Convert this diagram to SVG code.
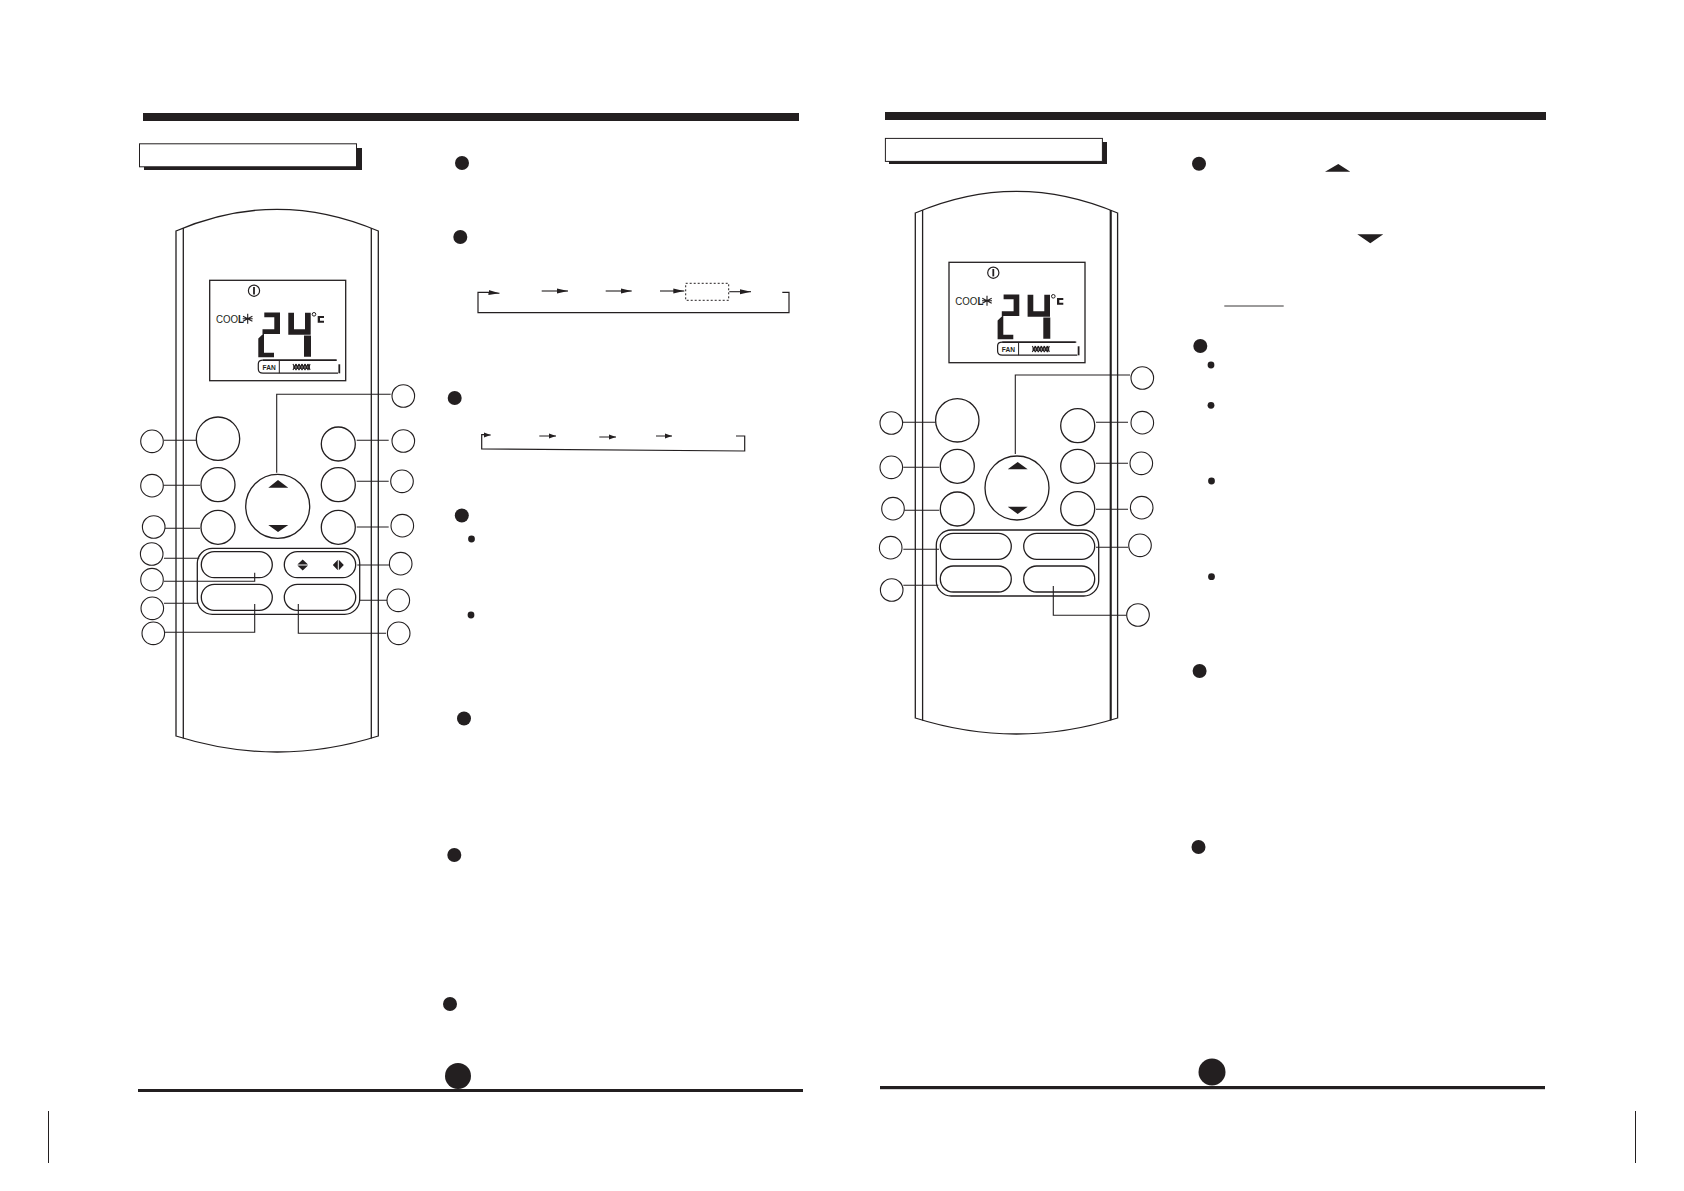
<svg xmlns="http://www.w3.org/2000/svg" width="1684" height="1191" viewBox="0 0 1684 1191">
<style>
.ln{fill:none;stroke:#231f20;stroke-width:1.2}
.bd{fill:none;stroke:#231f20;stroke-width:1.3}
.dk{fill:#231f20;stroke:none}
.cn{fill:none;stroke:#231f20;stroke-width:1.1}
.btn{fill:#fff;stroke:#231f20;stroke-width:1.3}
.call{fill:#fff;stroke:#231f20;stroke-width:1.1}
.ar{fill:none;stroke:#231f20;stroke-width:1.1;marker-end:url(#ah)}
.ar2{fill:none;stroke:#231f20;stroke-width:1;marker-end:url(#ahs)}
.lcd{font-family:"Liberation Sans",Arial,sans-serif;fill:#231f20}
</style>
<defs>
<marker id="ah" markerUnits="userSpaceOnUse" markerWidth="11" markerHeight="6" refX="11" refY="3" orient="auto"><path d="M0,0.5 L11,3 L0,5.5Z" fill="#231f20"/></marker>
<marker id="ahs" markerUnits="userSpaceOnUse" markerWidth="7" markerHeight="6" refX="7" refY="3" orient="auto"><path d="M0,0.5 L7,3 L0,5.5Z" fill="#231f20"/></marker>
<g id="body">
<path class="bd" d="M176,231 Q277,187.6 378.3,231 L378.3,736 Q277,768 176,736 Z"/>
<path class="bd" d="M183.3,228 V738.5 M371.3,228 V738.5"/>
<rect class="bd" x="209.7" y="280.3" width="136" height="100.4"/>
<circle cx="254" cy="290.7" r="5.6" fill="none" stroke="#231f20" stroke-width="1.2"/>
<path d="M254,287 V294.4" stroke="#231f20" stroke-width="1.8"/>
<text class="lcd" x="216" y="322.7" font-size="10" textLength="28" lengthAdjust="spacingAndGlyphs">COO<tspan font-weight="bold">L</tspan></text>
<path d="M247.7,313.7 V323.7 M243,316.2 L252.4,321.2 M252.4,316.2 L243,321.2 M242.7,318.7 H252.7" stroke="#231f20" stroke-width="1.1" fill="none"/>
<path class="dk" d="M264.3,312.5 H280 V317.2 H264.3 Z M274.3,312.5 H280 V334 H274.3 Z M262.5,329.3 H280 V334 H262.5 Z M258.3,338.5 L263.5,333.5 L264,334 V357.3 H258.3 Z M258.3,352.7 H274 V357.3 H258.3 Z"/>
<path class="dk" d="M288.3,312.7 H294 V334.7 H288.3 Z M288.3,329.3 H310.7 V334.7 H288.3 Z M305,312.7 H310.7 V334.7 H305 Z M304,335.4 H311 V356.7 H304 Z"/>
<circle cx="314" cy="314.3" r="1.8" fill="none" stroke="#231f20"/>
<path class="dk" d="M317.7,316 H324 V318 H320 V320.7 H324 V322.7 H317.7 Z"/>
<path d="M337,360.2 H263 Q258.3,360.2 258.3,364 V369 Q258.3,373.2 263,373.2 H338" fill="none" stroke="#231f20" stroke-width="1.2"/>
<path d="M263,360.2 H336" stroke="#231f20" stroke-width="1.6"/>
<path d="M339.3,364.3 V373.3" stroke="#231f20" stroke-width="1.8"/>
<path d="M279.3,360 V373.2" stroke="#231f20" stroke-width="1"/>
<text class="lcd" x="262.5" y="369.7" font-size="6.6" font-weight="bold">FAN</text>
<path d="M293,364 L296,370 M296,364 L293,370 M296,364 L299,370 M299,364 L296,370 M299,364 L302,370 M302,364 L299,370 M302,364 L305,370 M305,364 L302,370 M305,364 L308,370 M308,364 L305,370 M308,364 L310,370 M310,364 L308,370 M293,367 H310" stroke="#231f20" stroke-width="1.1" fill="none"/>
</g>
</defs>

<g id="page-furniture">
<rect class="dk" x="143" y="113" width="656" height="8"/>
<rect class="dk" x="885" y="112" width="661" height="8"/>
<rect class="dk" x="138" y="1089" width="665" height="3"/>
<rect class="dk" x="880" y="1086" width="665" height="3.2"/>
<circle class="dk" cx="458" cy="1076" r="13"/>
<circle class="dk" cx="1212" cy="1072" r="13.5"/>
<path d="M48.5,1111 V1163 M1635.5,1111 V1163" stroke="#231f20" stroke-width="1"/>
</g>

<g id="header-left">
<rect class="dk" x="144" y="148" width="218" height="22"/>
<rect x="139.5" y="143.8" width="217" height="23" fill="#fff" stroke="#231f20" stroke-width="1"/>
</g>
<g id="header-right">
<rect class="dk" x="889" y="142" width="218" height="22"/>
<rect x="885.4" y="138.4" width="217" height="23" fill="#fff" stroke="#231f20" stroke-width="1"/>
</g>

<g id="remote-left"><use href="#body"/></g>
<g id="remote-right"><use href="#body" transform="translate(739.3,-18)"/><path d="M1110.7,210 V720" stroke="#231f20" stroke-width="2"/></g>

<g id="buttons-left">
<rect class="bd" x="197.3" y="548.3" width="162.4" height="66" rx="15"/>
<circle class="btn" cx="218" cy="438.7" r="21.7"/>
<circle class="btn" cx="218" cy="484.7" r="17"/>
<circle class="btn" cx="218" cy="527.3" r="17"/>
<circle class="btn" cx="338.3" cy="444" r="17"/>
<circle class="btn" cx="338.3" cy="484.7" r="17"/>
<circle class="btn" cx="338.3" cy="527.3" r="17"/>
<circle class="btn" cx="277.7" cy="506.3" r="32"/>
<path class="dk" d="M278,480 L268.3,487.7 H288.3Z M268.3,525 H288.3 L278,532Z"/>
<rect class="bd" x="201.3" y="551.7" width="71" height="26" rx="13"/>
<rect class="bd" x="284.3" y="551.7" width="71.4" height="26" rx="13"/>
<rect class="bd" x="201.3" y="584.3" width="71" height="26" rx="13"/>
<rect class="bd" x="284.3" y="584.3" width="71.4" height="26" rx="13"/>
<path class="dk" d="M302.7,559.5 L308,564.5 H297.4Z M297.4,565.5 H308 L302.7,570.5Z M337.8,559.7 L332.8,565 L337.8,570.3Z M338.8,559.7 L343.8,565 L338.8,570.3Z"/>
</g>
<g id="buttons-right">
<rect class="bd" x="936.3" y="530" width="162.4" height="66" rx="15"/>
<circle class="btn" cx="957.3" cy="420.3" r="21.7"/>
<circle class="btn" cx="957.3" cy="466.3" r="17"/>
<circle class="btn" cx="957.3" cy="509" r="17"/>
<circle class="btn" cx="1077.7" cy="425.7" r="17"/>
<circle class="btn" cx="1077.7" cy="466.3" r="17"/>
<circle class="btn" cx="1077.7" cy="508.7" r="17"/>
<circle class="btn" cx="1017" cy="488" r="32"/>
<path class="dk" d="M1017.7,462 L1007.7,469.3 H1027.7Z M1007.7,506.7 H1027.7 L1017.7,514Z"/>
<rect class="bd" x="940.3" y="533.3" width="71" height="26" rx="13"/>
<rect class="bd" x="1023.7" y="533.3" width="71" height="26" rx="13"/>
<rect class="bd" x="940.3" y="566" width="71" height="26" rx="13"/>
<rect class="bd" x="1023.7" y="566" width="71" height="26" rx="13"/>
</g>

<g id="connectors">
<path class="cn" d="M164,440.3 H196 M163.3,485.3 H200 M165,528.3 H200 M164,558.3 H199.3 M164,581.3 H254.7 V572.7 M164,603.3 H198.3 M164.7,632.3 H254.7 V604"/>
<path class="cn" d="M390.7,394.3 H276.7 V472.7 M356.7,440.3 H388.7 M356.7,481.3 H388.7 M356.7,527 H388.7 M357.3,565 H389.3 M360,600.3 H387.3 M386,633.3 H298.3 V604"/>
<path class="cn" d="M902.7,422.3 H935.7 M903.3,467.3 H939.3 M904.3,510.3 H939.3 M903.3,549.3 H939 M903.3,585.3 H938.3"/>
<path class="cn" d="M1130,375 H1015.3 V454 M1096,422.3 H1128 M1096,463.3 H1128 M1096,509.3 H1128 M1096,547.3 H1128 M1126.7,615.3 H1053.3 V586"/>
</g>

<g id="callouts-left">
<circle class="call" cx="152" cy="441.3" r="11.3"/>
<circle class="call" cx="152" cy="485.7" r="11.3"/>
<circle class="call" cx="153.7" cy="527" r="11.3"/>
<circle class="call" cx="151.7" cy="554" r="11.3"/>
<circle class="call" cx="152" cy="579.7" r="11.3"/>
<circle class="call" cx="152.3" cy="608.3" r="11.3"/>
<circle class="call" cx="153.3" cy="633.3" r="11.3"/>
<circle class="call" cx="403.3" cy="396" r="11.3"/>
<circle class="call" cx="403.3" cy="441" r="11.3"/>
<circle class="call" cx="402" cy="481.3" r="11.3"/>
<circle class="call" cx="402.3" cy="525.7" r="11.3"/>
<circle class="call" cx="400.7" cy="563.7" r="11.3"/>
<circle class="call" cx="398.3" cy="600.3" r="11.3"/>
<circle class="call" cx="398.7" cy="633.3" r="11.3"/>
</g>
<g id="callouts-right">
<circle class="call" cx="891.3" cy="423" r="11.3"/>
<circle class="call" cx="891.3" cy="467.3" r="11.3"/>
<circle class="call" cx="893" cy="508.7" r="11.3"/>
<circle class="call" cx="890.7" cy="547.7" r="11.3"/>
<circle class="call" cx="891.7" cy="590" r="11.3"/>
<circle class="call" cx="1142.3" cy="378" r="11.3"/>
<circle class="call" cx="1142.3" cy="422.7" r="11.3"/>
<circle class="call" cx="1141.3" cy="463.3" r="11.3"/>
<circle class="call" cx="1141.7" cy="507.7" r="11.3"/>
<circle class="call" cx="1140" cy="545.3" r="11.3"/>
<circle class="call" cx="1138" cy="615" r="11.3"/>
</g>

<g id="bullets-left">
<circle class="dk" cx="462" cy="163" r="7"/>
<circle class="dk" cx="460.3" cy="237" r="7"/>
<circle class="dk" cx="454.7" cy="398" r="7"/>
<circle class="dk" cx="461.8" cy="515.5" r="7"/>
<circle class="dk" cx="471.5" cy="539" r="3.4"/>
<circle class="dk" cx="471" cy="615" r="3.4"/>
<circle class="dk" cx="464" cy="718.5" r="7"/>
<circle class="dk" cx="454.3" cy="855" r="7"/>
<circle class="dk" cx="450" cy="1004" r="7"/>
</g>
<g id="bullets-right">
<circle class="dk" cx="1199" cy="163.7" r="7"/>
<circle class="dk" cx="1200.3" cy="346" r="7"/>
<circle class="dk" cx="1211" cy="365" r="3.4"/>
<circle class="dk" cx="1211" cy="405.3" r="3.4"/>
<circle class="dk" cx="1211.5" cy="481" r="3.4"/>
<circle class="dk" cx="1211.5" cy="576.7" r="3.4"/>
<circle class="dk" cx="1199.6" cy="671" r="7"/>
<circle class="dk" cx="1198.5" cy="847" r="7"/>
<path class="dk" d="M1338.3,164 L1325,171.7 H1350.3Z M1357.3,234.3 H1383.3 L1370.3,243.3Z"/>
<path d="M1224.3,306 H1283.7" stroke="#231f20" stroke-width="0.9"/>
</g>

<g id="flow-1">
<path class="ln" d="M489,292.3 H478 V312.7 H789 V292.3 H782.3"/>
<path class="ar" d="M489,292.6 L499.5,293.2"/>
<path class="ar" d="M541.7,291 H568"/>
<path class="ar" d="M605.7,291 H631.7"/>
<path class="ar" d="M660,291 H684.3"/>
<rect x="685.7" y="283.3" width="43" height="17" fill="none" stroke="#231f20" stroke-width="1" stroke-dasharray="2 2"/>
<path class="ar" d="M729.3,291.7 H751"/>
</g>
<g id="flow-2">
<path class="ln" d="M488,434.7 H481.7 V449 L744.7,451 V436 H736"/>
<path class="ar2" d="M484,435 H490.7"/>
<path class="ar2" d="M539.3,436 H556"/>
<path class="ar2" d="M599.3,437 H616"/>
<path class="ar2" d="M656,436 H672"/>
</g>
</svg>
